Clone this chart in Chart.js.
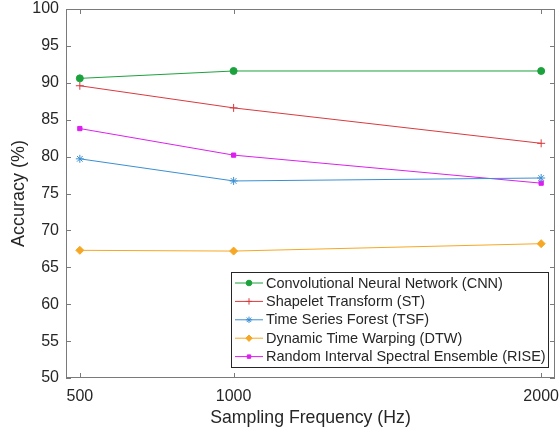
<!DOCTYPE html>
<html>
<head>
<meta charset="utf-8">
<script src="https://cdn.jsdelivr.net/npm/chart.js@4.4.1/dist/chart.umd.min.js"></script>
<style>
  html,body{margin:0;padding:0;background:#fff}
  #wrap{width:560px;height:433px}
</style>
</head>
<body>
<div id="wrap"><canvas id="chart" width="560" height="433"></canvas></div>
<script>
// data
const freqs = [500, 1000, 2000];
const xTicks = [500, 1000, 2000];
const cnn  = [90.6, 91.6, 91.6];
const st   = [89.6, 86.6, 81.8];
const tsf  = [79.7, 76.7, 77.1];
const dtw  = [67.3, 67.2, 68.2];
const rise = [83.8, 80.2, 76.4];

const labels = [
  'Convolutional Neural Network (CNN)',
  'Shapelet Transform (ST)',
  'Time Series Forest (TSF)',
  'Dynamic Time Warping (DTW)',
  'Random Interval Spectral Ensemble (RISE)'
];
const colors = ['#1ca23c', '#d93a3e', '#3a8fd2', '#f6a724', '#dc1ff0'];
const styles = ['circle', 'cross', 'star', 'rectRot', 'rect'];
const radii  = [3.5, 4, 4, 4, 3];
const series = [cnn, st, tsf, dtw, rise];

const FONT = '"Liberation Sans", Arial, Helvetica, sans-serif';
const AXIS = '#7a7a7a';
const TXT = '#262626';

function toPts(vals){ return freqs.map((f,i)=>({x:f, y:vals[i]})) }

const datasets = series.map((s,i)=>({
  label: labels[i], data: toPts(s),
  borderColor: colors[i], backgroundColor: colors[i],
  borderWidth: 1, pointStyle: styles[i], pointRadius: radii[i],
  pointBorderWidth: 1, tension: 0
}));

// box, inward ticks, legend inside plot
const frame = {
  id: 'frame',
  afterDraw(chart){
    const {ctx, chartArea:a, scales:{x, y}} = chart;
    ctx.save();
    ctx.strokeStyle = AXIS; ctx.lineWidth = 1;
    ctx.strokeRect(a.left+0.5, a.top+0.5, a.right-a.left-1, a.bottom-a.top-1);
    ctx.beginPath();
    y.ticks.forEach(t=>{
      const py = Math.round(y.getPixelForValue(t.value))+0.5;
      ctx.moveTo(a.left, py); ctx.lineTo(a.left+5, py);
      ctx.moveTo(a.right, py); ctx.lineTo(a.right-5, py);
    });
    x.ticks.forEach(t=>{
      const px = Math.round(x.getPixelForValue(t.value))+0.5;
      ctx.moveTo(px, a.bottom); ctx.lineTo(px, a.bottom-5);
      ctx.moveTo(px, a.top); ctx.lineTo(px, a.top+5);
    });
    ctx.stroke();

    // legend
    const lx = 231, ly = 272, lw = 317, lh = 95, row = 18.4;
    ctx.fillStyle = '#fff';
    ctx.fillRect(lx, ly, lw, lh);
    ctx.strokeStyle = '#262626';
    ctx.strokeRect(lx+0.5, ly+0.5, lw, lh);
    ctx.font = '14.5px ' + FONT;
    ctx.textBaseline = 'middle';
    chart.data.datasets.forEach((d,i)=>{
      const cy = ly + 11 + i*row;
      ctx.strokeStyle = d.borderColor; ctx.fillStyle = d.backgroundColor; ctx.lineWidth = 1;
      ctx.beginPath(); ctx.moveTo(lx+4, cy); ctx.lineTo(lx+32, cy); ctx.stroke();
      Chart.helpers.drawPoint(ctx, {pointStyle: d.pointStyle, radius: d.pointRadius*0.8, borderWidth: 1}, lx+18, cy);
      ctx.fillStyle = TXT;
      ctx.fillText(d.label, lx+35, cy+0.5);
    });
    ctx.restore();
  }
};

new Chart(document.getElementById('chart'), {
  type: 'line',
  data: { datasets },
  options: {
    responsive: false, animation: false,
    layout: { padding: { top: 9, right: 1, left: 0, bottom: 0 } },
    plugins: { legend: { display: false }, tooltip: { enabled: false } },
    scales: {
      x: {
        type: 'linear', min: 455, max: 2045,
        afterBuildTicks: s => { s.ticks = xTicks.map(v=>({value:v})) },
        afterFit: s => { s.height = 55; s.paddingLeft = 0; s.paddingRight = 0 },
        grid: { display: false, drawTicks: false },
        border: { display: false },
        ticks: { color: TXT, font: { family: FONT, size: 16 }, padding: 9, maxRotation: 0, autoSkip: false, callback: v => String(v) },
        title: { display: true, text: 'Sampling Frequency (Hz)', color: TXT, font: { family: FONT, size: 17.7 }, padding: { top: 1 } }
      },
      y: {
        min: 50, max: 100,
        afterFit: s => { s.width = 66; s.paddingTop = 0; s.paddingBottom = 0 },
        grid: { display: false, drawTicks: false },
        border: { display: false },
        ticks: { stepSize: 5, color: TXT, font: { family: FONT, size: 16 }, padding: 7 },
        title: { display: true, text: 'Accuracy (%)', color: TXT, font: { family: FONT, size: 18 }, padding: { top: 8, bottom: 0 } }
      }
    }
  },
  plugins: [frame]
});
</script>
</body>
</html>
